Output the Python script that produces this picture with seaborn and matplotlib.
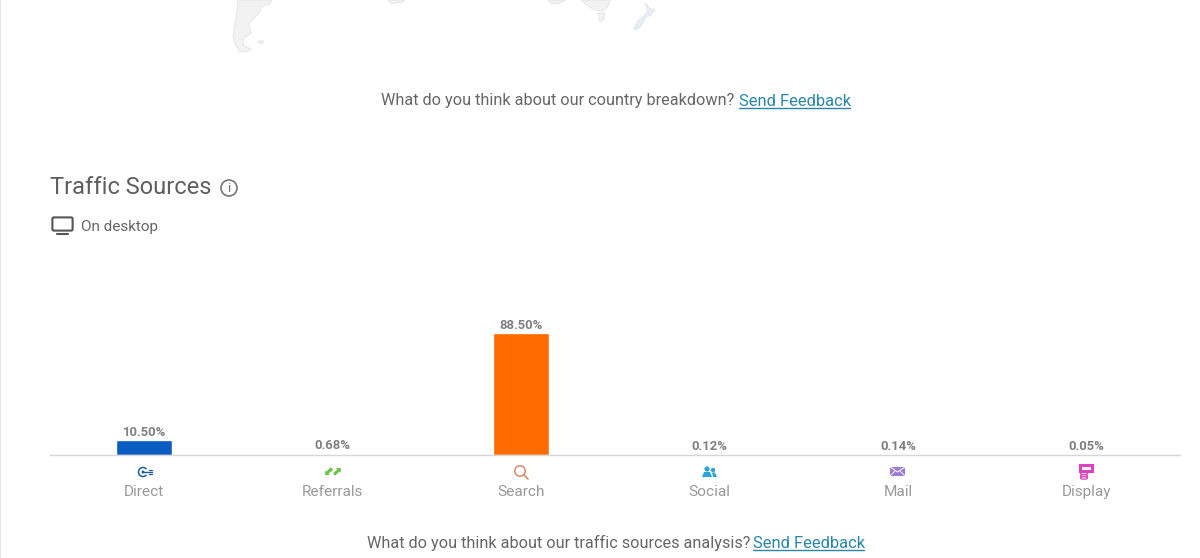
import matplotlib
matplotlib.use('Agg')
import matplotlib.pyplot as plt
import matplotlib.patches as mpatches
import seaborn as sns
import pandas as pd

categories = ['Direct', 'Referrals', 'Search', 'Social', 'Mail', 'Display']
shares = [10.50, 0.68, 88.50, 0.12, 0.14, 0.05]
share_labels = ['10.50%', '0.68%', '88.50%', '0.12%', '0.14%', '0.05%']
bar_colors = ['#0a5cc0', '#6cc24a', '#ff6a00', '#2ba5d8', '#8f6fd0', '#e040c0']

sns.set_theme(style='white')
plt.rcParams['font.family'] = ['Roboto', 'DejaVu Sans']

W, H = 1200, 558
fig = plt.figure(figsize=(W / 100, H / 100), dpi=100, facecolor='white')


def px_rect(x0, y0, x1, y1):
    return [x0 / W, 1 - y1 / H, (x1 - x0) / W, (y1 - y0) / H]


# bar chart
ax = fig.add_axes(px_rect(50, 259, 1180.5, 454.5))
df = pd.DataFrame({'source': categories, 'share': shares})
sns.barplot(data=df, x='source', y='share', hue='source', palette=bar_colors,
            order=categories, hue_order=categories, legend=False, width=0.295,
            saturation=1, ax=ax)
ax.set_xlim(-0.5, 5.5)
ax.set_ylim(0, 142.3)
ax.set_xlabel('')
ax.set_ylabel('')
ax.set_yticks([])
ax.tick_params(axis='x', length=0, pad=21.7, labelsize=11.1, labelcolor='#999999')
sns.despine(ax=ax, left=True)
ax.spines['bottom'].set_color('#d6d6d6')
ax.spines['bottom'].set_linewidth(1)
ax.spines['bottom'].set_zorder(5)
for container, lab in zip(ax.containers, share_labels):
    ax.bar_label(container, labels=[lab], padding=1, fontsize=9.4, fontweight='bold', color='#7f7f7f')

# page layer in pixel coordinates
page = fig.add_axes([0, 0, 1, 1], facecolor='none')
page.set_xlim(0, W)
page.set_ylim(H, 0)
page.axis('off')

# left edge of the page
page.add_patch(mpatches.Rectangle((0, 0), 1, H, color='#e6e6e6', lw=0))

# bits of world map
land = dict(facecolor='#f2f2f2', edgecolor='#e2e2e2', lw=0.6)
page.add_patch(mpatches.Polygon([(238, 0), (272, 0), (270, 4), (262, 6), (259, 13), (253, 19), (249, 24), (251, 33),
                                 (244, 38), (243, 45), (251, 49), (246, 52), (239, 51), (235, 44), (233, 36),
                                 (235, 24), (237, 12)], **land))
page.add_patch(mpatches.Polygon([(258, 41), (264, 41), (261, 44)], **land))
page.add_patch(mpatches.Polygon([(388, 0), (405, 0), (402, 2), (391, 4)], **land))
page.add_patch(mpatches.Polygon([(548, 0), (566, 0), (560, 3), (551, 4)], **land))
page.add_patch(mpatches.Polygon([(581, 0), (610, 0), (608, 6), (603, 11), (595, 10), (588, 6)], **land))
page.add_patch(mpatches.Polygon([(598, 13), (605, 13), (603, 20), (600, 22)], **land))
page.add_patch(mpatches.Polygon([(645, 3), (650, 9), (655, 9), (651, 15), (646, 17), (641, 26), (636, 30), (634, 28),
                                 (638, 21), (645, 15), (648, 10)], facecolor='#e9eef5', edgecolor='#d8e0ea', lw=0.5))

# sentences with feedback links
text_col = '#666666'
link_col = '#2a86a8'
page.text(381, 101, 'What do you think about our country breakdown?', fontsize=11.7, color=text_col, va='center')
page.text(739, 101, 'Send Feedback', fontsize=11.85, color=link_col, va='center')
page.plot([739, 850], [108, 108], color=link_col, lw=1)
page.text(367, 543, 'What do you think about our traffic sources analysis?', fontsize=11.7, color=text_col, va='center')
page.text(753, 543, 'Send Feedback', fontsize=11.85, color=link_col, va='center')
page.plot([753, 864], [550, 550], color=link_col, lw=1)

# heading
page.text(50, 187.5, 'Traffic Sources', fontsize=17, color='#5f5f5f', va='center')
page.add_patch(mpatches.Circle((229, 188), 8, facecolor='none', edgecolor='#777777', lw=1.2))
page.text(229, 188, 'i', fontsize=9.5, color='#777777', ha='center', va='center')
page.text(81, 227, 'On desktop', fontsize=11, color='#666666', va='center')
page.add_patch(mpatches.FancyBboxPatch((53, 218), 19, 12, boxstyle='round,pad=0.6,rounding_size=1.5',
                                       facecolor='none', edgecolor='#555555', lw=1.5))
page.plot([57, 68], [234, 234], color='#555555', lw=1.5)

# source icons
blue = '#1f5c9e'
page.add_patch(mpatches.Arc((143, 472), 9, 9, theta1=40, theta2=320, color=blue, lw=1.1))
page.add_patch(mpatches.Circle((143, 472), 1.5, color=blue, lw=0))
page.plot([143, 152], [472, 472], color=blue, lw=1)
page.plot([149, 152], [470, 470], color=blue, lw=0.9)
page.plot([149, 152], [474, 474], color=blue, lw=0.9)

green = '#6cc24a'
page.add_patch(mpatches.FancyArrow(332, 468.5, -7, 6.5, width=3.2, head_width=6.5, head_length=3.5,
                                   length_includes_head=True, color=green, lw=0))
page.add_patch(mpatches.FancyArrow(334, 474.5, 7, -6.5, width=3.2, head_width=6.5, head_length=3.5,
                                   length_includes_head=True, color=green, lw=0))

orange = '#d68a68'
page.add_patch(mpatches.Circle((520, 471), 5.2, facecolor='none', edgecolor=orange, lw=1.1))
page.plot([524, 528], [475, 479], color=orange, lw=1.2)

sky = '#2ba5d8'
page.add_patch(mpatches.Circle((707, 469), 2.6, color=sky, lw=0))
page.add_patch(mpatches.Circle((713, 470), 2.2, color=sky, lw=0))
page.add_patch(mpatches.Polygon([(702, 477), (704, 472), (710, 472), (712, 477)], color=sky, lw=0))
page.add_patch(mpatches.Polygon([(712, 472.5), (715, 472.5), (717, 477), (713, 477)], color=sky, lw=0))

purple = '#9a7ed6'
page.add_patch(mpatches.Rectangle((890, 467), 15, 9, color=purple, lw=0))
page.plot([890, 897.5, 905], [467, 472, 467], color='white', lw=0.7)
page.plot([890, 895], [476, 471], color='white', lw=0.6)
page.plot([905, 900], [476, 471], color='white', lw=0.6)

pink = '#e040c0'
page.add_patch(mpatches.Rectangle((1079, 464), 15, 9, color=pink, lw=0))
page.add_patch(mpatches.Rectangle((1082, 466.5), 9, 3, color='white', lw=0))
page.add_patch(mpatches.Ellipse((1084, 473.5), 7, 2.4, facecolor='white', edgecolor=pink, lw=0.9))
page.add_patch(mpatches.Ellipse((1084, 476), 7, 2.4, facecolor='white', edgecolor=pink, lw=0.9))
page.add_patch(mpatches.Ellipse((1084, 478), 7, 2.4, facecolor='white', edgecolor=pink, lw=0.9))

fig.savefig('out.png', dpi=100)
